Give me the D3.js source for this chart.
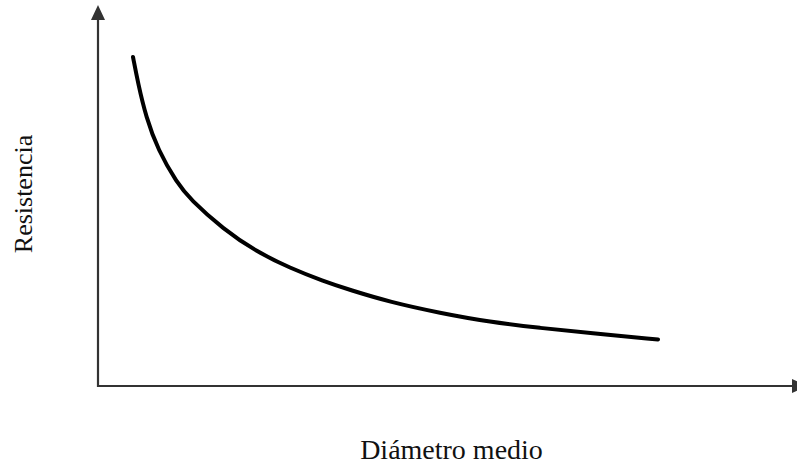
<!DOCTYPE html>
<html><head><meta charset="utf-8">
<script src="https://cdn.jsdelivr.net/npm/d3@7"></script>
<style>html,body{margin:0;padding:0;background:#fff;}svg{display:block;}</style>
</head><body>
<svg id="chart" width="797" height="466"></svg>
<script>
// Diameter (arbitrary units) and resistance (arbitrary units)
const diametro = [35, 40, 48, 60, 79, 92, 125, 159, 192, 225, 252, 292, 342, 392, 442, 492, 560];
const resistencia = [329, 303, 269, 236, 203, 187, 157, 134, 118, 105, 96, 84, 73, 64, 58, 53, 46.5];
const xLabel = "Diámetro medio";
const yLabel = "Resistencia";

const svg = d3.select("#chart");
const x = d3.scaleLinear().domain([0, 700]).range([98, 798]);
const y = d3.scaleLinear().domain([0, 381]).range([386, 5]);

const axisColor = "#333";
// y axis
svg.append("line").attr("x1", x(0)).attr("x2", x(0)).attr("y1", y(0) + 1).attr("y2", y(381) + 12)
  .attr("stroke", axisColor).attr("stroke-width", 2.2);
svg.append("path")
  .attr("d", `M${x(0)},${y(381)} L${x(0) - 7},${y(381) + 15} L${x(0) + 7},${y(381) + 15} Z`)
  .attr("fill", axisColor);
// x axis
svg.append("line").attr("x1", x(0) - 1).attr("x2", x(695)).attr("y1", y(0)).attr("y2", y(0))
  .attr("stroke", axisColor).attr("stroke-width", 2.2);
svg.append("path")
  .attr("d", `M${x(694)},${y(0) - 7} L${x(694) + 15},${y(0)} L${x(694)},${y(0) + 7} Z`)
  .attr("fill", axisColor);

const pts = diametro.map((d, i) => [d, resistencia[i]]);
const line = d3.line().x(d => x(d[0])).y(d => y(d[1])).curve(d3.curveBasis);
svg.append("path").datum(pts).attr("d", line)
  .attr("fill", "none").attr("stroke", "#000").attr("stroke-width", 4)
  .attr("stroke-linecap", "round").attr("stroke-linejoin", "round");

svg.append("text").attr("x", 451.5).attr("y", 459)
  .attr("text-anchor", "middle").attr("font-family", "'Liberation Serif','Times New Roman',serif")
  .attr("font-size", 28).attr("fill", "#111").text(xLabel);
svg.append("text").attr("transform", "translate(32,194) rotate(-90)")
  .attr("text-anchor", "middle").attr("font-family", "'Liberation Serif','Times New Roman',serif")
  .attr("font-size", 26).attr("fill", "#111").text(yLabel);
</script>
</body></html>
